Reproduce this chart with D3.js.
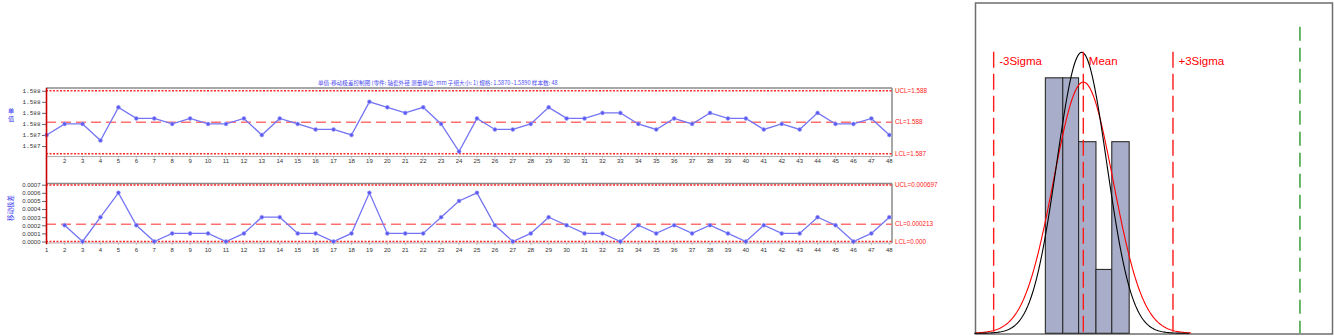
<!DOCTYPE html>
<html>
<head>
<meta charset="utf-8">
<script src="https://cdn.jsdelivr.net/npm/d3@7"></script>
<style>
  body { margin: 0; background: #fff; }
  svg { display: block; }
</style>
</head>
<body>
<svg id="chart" width="1334" height="336"></svg>
<script>
// ---- Data -------------------------------------------------------------
const samples = d3.range(1, 49);

// Individual measurements (mm)
const individuals = [
  1.5874, 1.5876, 1.5876, 1.5873, 1.5879, 1.5877, 1.5877, 1.5876, 1.5877, 1.5876,
  1.5876, 1.5877, 1.5874, 1.5877, 1.5876, 1.5875, 1.5875, 1.5874, 1.5880, 1.5879,
  1.5878, 1.5879, 1.5876, 1.5871, 1.5877, 1.5875, 1.5875, 1.5876, 1.5879, 1.5877,
  1.5877, 1.5878, 1.5878, 1.5876, 1.5875, 1.5877, 1.5876, 1.5878, 1.5877, 1.5877,
  1.5875, 1.5876, 1.5875, 1.5878, 1.5876, 1.5876, 1.5877, 1.5874
];

// Moving ranges, starting at sample 2
const movingRanges = [
  0.0002, 0.0000, 0.0003, 0.0006, 0.0002, 0.0000, 0.0001, 0.0001, 0.0001,
  0.0000, 0.0001, 0.0003, 0.0003, 0.0001, 0.0001, 0.0000, 0.0001, 0.0006, 0.0001,
  0.0001, 0.0001, 0.0003, 0.0005, 0.0006, 0.0002, 0.0000, 0.0001, 0.0003, 0.0002,
  0.0001, 0.0001, 0.0000, 0.0002, 0.0001, 0.0002, 0.0001, 0.0002, 0.0001, 0.0000,
  0.0002, 0.0001, 0.0001, 0.0003, 0.0002, 0.0000, 0.0001, 0.0003
];

// Control limits
const iLimits  = { ucl: 1.58820, cl: 1.58763, lcl: 1.58706 };
const mrLimits = { ucl: 0.000697, cl: 0.000213, lcl: 0 };

// Axis tick values
const iTicks  = [1.5872, 1.5874, 1.5876, 1.5878, 1.5880, 1.5882];
const mrTicks = [0, 0.0001, 0.0002, 0.0003, 0.0004, 0.0005, 0.0006, 0.0007];

// Histogram of the measurements
const binEdges  = [1.58739, 1.58750, 1.58760, 1.58771, 1.58781, 1.58792];
const binCounts = [12, 12, 9, 3, 9];
const processMean  = 1.58763;
const sigmaWithin  = 0.000189;
const specUpper    = 1.5890;
// Fitted normal curves: mean, sigma, peak height in counts, colour
const fitCurves = [
  { mean: 1.58763, sigma: 0.000189, peak: 11.8, color: "#ff0000" },
  { mean: 1.58762, sigma: 0.000158, peak: 13.2, color: "#000000" }
];

const chartTitle = "单值-移动极差控制图 (零件: 轴套外径  测量单位: mm  子组大小: 1)  规格: 1.5870~1.5890  样本数: 48";

// ---- Layout -----------------------------------------------------------
const svg = d3.select("#chart");
const blue = "#7474f4";
const blueDark = "#5a5af0";

const x = d3.scaleLinear().domain([1, 48]).range([46.7, 889.3]);
const plotRight = 892;

const yI  = d3.scaleLinear().domain([1.58702, 1.58825]).range([156, 88]);
const yMR = d3.scaleLinear().domain([0, 0.000715]).range([241.5, 183.5]);

// Title
svg.append("text")
  .attr("x", 318).attr("y", 85)
  .attr("font-family", "Noto Sans CJK SC, sans-serif")
  .attr("font-size", 5.6)
  .attr("fill", "#4a4af0")
  .text(chartTitle);

function drawPanel(y, top, bottom, values, xs, limits, ticks, fmt, tickFont, limitFmt, xLabelY, xLabelStart) {
  const g = svg.append("g");

  // frame: top and right in gray, baseline
  g.append("line").attr("x1", 46).attr("x2", plotRight).attr("y1", top).attr("y2", top)
    .attr("stroke", "#8a8a8a").attr("stroke-width", 1.5);
  g.append("line").attr("x1", plotRight).attr("x2", plotRight).attr("y1", top).attr("y2", bottom)
    .attr("stroke", "#8a8a8a").attr("stroke-width", 1.5);
  g.append("line").attr("x1", 46).attr("x2", plotRight).attr("y1", bottom).attr("y2", bottom)
    .attr("stroke", "#b0b0b0").attr("stroke-width", 1);

  // y axis
  const ax = g.append("g").attr("transform", "translate(46,0)")
    .call(d3.axisLeft(y).tickValues(ticks).tickFormat(fmt).tickSize(4).tickPadding(1.5));
  ax.select(".domain").remove();
  ax.selectAll(".tick line").attr("stroke", "#666");
  ax.selectAll(".tick text").attr("font-family", tickFont).attr("font-size", 6).attr("fill", "#333");

  // x labels
  const xl = g.append("g");
  xl.selectAll("line").data(samples).join("line")
    .attr("x1", d => x(d)).attr("x2", d => x(d))
    .attr("y1", bottom).attr("y2", bottom + 2)
    .attr("stroke", "#999").attr("stroke-width", 0.6);
  xl.selectAll("text").data(samples.filter(d => d >= xLabelStart)).join("text")
    .attr("x", d => x(d)).attr("y", xLabelY)
    .attr("text-anchor", "middle")
    .attr("font-family", "Liberation Sans, Arial, sans-serif")
    .attr("font-size", 6).attr("fill", "#333")
    .text(d => d);

  // control limits
  [["ucl", "2,1.5", "#ff2a2a", 1.4], ["lcl", "2,1.5", "#ff2a2a", 1.4], ["cl", "10,5", "#ff7070", 1.5]]
    .forEach(([k, dash, col, w]) => {
      g.append("line")
        .attr("x1", 46).attr("x2", plotRight)
        .attr("y1", y(limits[k])).attr("y2", y(limits[k]))
        .attr("stroke", col).attr("stroke-width", w)
        .attr("stroke-dasharray", dash);
      g.append("text")
        .attr("x", plotRight + 3).attr("y", y(limits[k]))
        .attr("dy", "0.35em")
        .attr("font-family", "Liberation Sans, Arial, sans-serif")
        .attr("font-size", 6.3).attr("fill", "#ff2020")
        .text(k.toUpperCase() + "=" + limitFmt(limits[k]));
    });

  // series
  const pts = xs.map((s, i) => [s, values[i]]);
  g.append("path")
    .attr("d", d3.line().x(d => x(d[0])).y(d => y(d[1]))(pts))
    .attr("fill", "none").attr("stroke", blue).attr("stroke-width", 1.3);
  g.selectAll("circle").data(pts).join("circle")
    .attr("cx", d => x(d[0])).attr("cy", d => y(d[1])).attr("r", 2)
    .attr("fill", blueDark).attr("stroke", "#a8a8ff").attr("stroke-width", 0.6);
  return g;
}

drawPanel(yI, 88, 156.5, individuals, samples, iLimits, iTicks,
  d3.format(".3f"), "Liberation Mono, monospace", d3.format(".3f"), 163, 2);

drawPanel(yMR, 183.5, 243, movingRanges, samples.slice(1), mrLimits, mrTicks,
  d3.format(".4f"), "Liberation Sans, Arial, sans-serif",
  v => (v === 0 ? d3.format(".3f")(v) : d3.format(".6f")(v)), 252, 1);

// cursor line across both panels
svg.append("line").attr("x1", 46.5).attr("x2", 46.5).attr("y1", 88).attr("y2", 244)
  .attr("stroke", "#c80000").attr("stroke-width", 1.6);

// y axis titles
["单", "值"].forEach((ch, i) => {
  svg.append("text")
    .attr("x", 11).attr("y", 113 + i * 8)
    .attr("text-anchor", "middle")
    .attr("font-family", "Noto Sans CJK SC, sans-serif").attr("font-size", 6.2)
    .attr("fill", "#3a3af0")
    .text(ch);
});

svg.append("text")
  .attr("transform", "translate(13,208) rotate(-90)")
  .attr("text-anchor", "middle")
  .attr("font-family", "Noto Sans CJK SC, sans-serif").attr("font-size", 6.5)
  .attr("fill", "#3a3af0")
  .text("移动极差");

// ---- Histogram panel -------------------------------------------------
const hx = d3.scaleLinear().domain([1.586945, 1.589209]).range([975, 1333]);
const hy = d3.scaleLinear().domain([0, 15.5]).range([333.3, 3.3]);

const hg = svg.append("g");
hg.append("rect")
  .attr("x", 975.5).attr("y", 3).attr("width", 357).attr("height", 331)
  .attr("fill", "#fff").attr("stroke", "#6e6e6e").attr("stroke-width", 1.5);

const bins = binCounts.map((c, i) => ({ x0: binEdges[i], x1: binEdges[i + 1], n: c }));
hg.selectAll("rect.bar").data(bins).join("rect")
  .attr("class", "bar")
  .attr("x", d => hx(d.x0)).attr("width", d => hx(d.x1) - hx(d.x0))
  .attr("y", d => hy(d.n)).attr("height", d => hy(0) - hy(d.n))
  .attr("fill", "#a8aec9").attr("stroke", "#2b2b2b").attr("stroke-width", 1.1);

// fitted normal curves
fitCurves.forEach(c => {
  const lo = c.mean - 3.6 * sigmaWithin, hi = c.mean + 3.6 * sigmaWithin;
  const xs = d3.range(0, 201).map(i => lo + (hi - lo) * i / 200);
  const line = d3.line()
    .x(v => hx(v))
    .y(v => hy(c.peak * Math.exp(-0.5 * Math.pow((v - c.mean) / c.sigma, 2))));
  hg.append("path").attr("d", line(xs))
    .attr("fill", "none").attr("stroke", c.color).attr("stroke-width", 1.1);
});

// sigma and mean reference lines
const refLines = [
  { v: processMean - 3 * sigmaWithin, label: "-3Sigma" },
  { v: processMean, label: "Mean" },
  { v: processMean + 3 * sigmaWithin, label: "+3Sigma" }
];
refLines.forEach(r => {
  hg.append("line")
    .attr("x1", hx(r.v)).attr("x2", hx(r.v)).attr("y1", 51.7).attr("y2", 333.3)
    .attr("stroke", "#ff1a1a").attr("stroke-width", 1.4).attr("stroke-dasharray", "16,6");
  hg.append("text")
    .attr("x", hx(r.v) + 5.5).attr("y", 64.5)
    .attr("font-family", "Liberation Sans, Arial, sans-serif")
    .attr("font-size", 11.5).attr("fill", "#ff0000")
    .text(r.label);
});

// upper specification limit
hg.append("line")
  .attr("x1", hx(specUpper)).attr("x2", hx(specUpper)).attr("y1", 26.7).attr("y2", 333.3)
  .attr("stroke", "#3aa03a").attr("stroke-width", 1.5).attr("stroke-dasharray", "14,7");
</script>
</body>
</html>
